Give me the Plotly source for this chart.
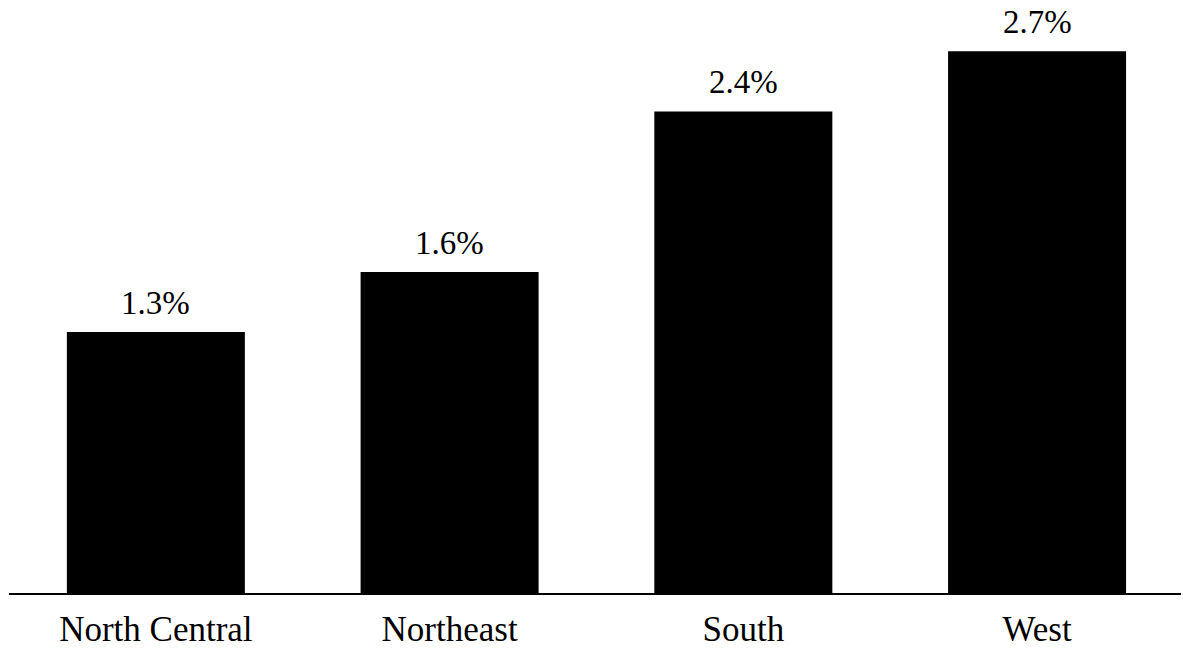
import plotly.graph_objects as go

regions = ["North Central", "Northeast", "South", "West"]
shares = [1.3, 1.6, 2.4, 2.7]
value_labels = ["1.3%", "1.6%", "2.4%", "2.7%"]

serif = "Liberation Serif, Times New Roman, serif"

fig = go.Figure()
fig.add_trace(go.Bar(
    x=regions,
    y=shares,
    marker=dict(color="black", line=dict(width=0)),
    width=0.606,
    hoverinfo="skip",
))

for r, v, t in zip(regions, shares, value_labels):
    fig.add_annotation(
        x=r, y=v, text=t, showarrow=False,
        yanchor="bottom", yshift=9,
        font=dict(family=serif, size=33, color="black"),
    )

fig.update_layout(
    width=1183, height=652,
    margin=dict(l=9, r=2, t=0, b=59),
    plot_bgcolor="white", paper_bgcolor="white",
    showlegend=False,
    xaxis=dict(
        range=[-0.5, 3.49],
        showline=True, linecolor="black", linewidth=2,
        ticks="", showgrid=False, zeroline=False,
        ticklabelstandoff=4, automargin=False,
        tickfont=dict(family=serif, size=35, color="black"),
    ),
    yaxis=dict(
        range=[0, 2.955], visible=False, showgrid=False, zeroline=False,
    ),
)

fig.write_html("out.html")
